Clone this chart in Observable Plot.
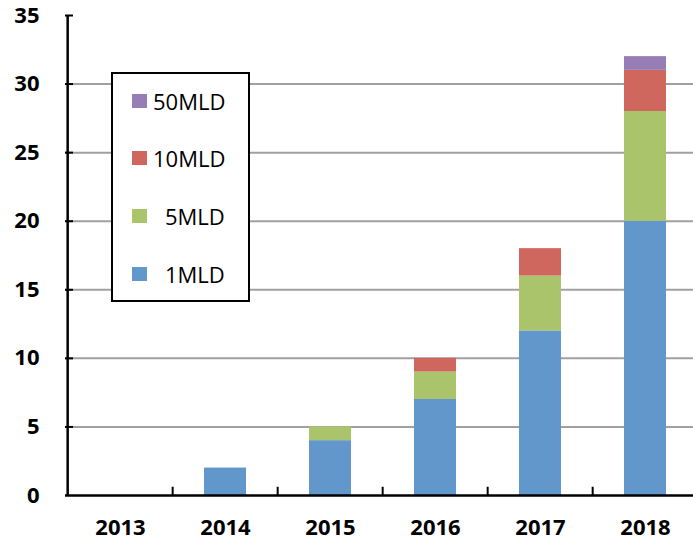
<!DOCTYPE html>
<html>
<head>
<meta charset="utf-8">
<script src="https://cdn.jsdelivr.net/npm/d3@7"></script>
<script src="https://cdn.jsdelivr.net/npm/@observablehq/plot@0.6"></script>
<style>
  body { margin: 0; background: #fff; }
  #wrap { position: relative; width: 693px; height: 542px; font-family: "Open Sans", sans-serif; }
  #legend { position: absolute; left: 111px; top: 72px; width: 135px; height: 226px; border: 2px solid #000; background: #fff; }
  .item { position: absolute; left: 19px; display: flex; align-items: center; font-size: 22px; color: #000; }
  .sw { width: 15px; height: 14px; margin-right: 6px; }
</style>
</head>
<body>
<div id="wrap"></div>
<script>
const years = ["2013", "2014", "2015", "2016", "2017", "2018"];
const seriesNames = ["1MLD", "5MLD", "10MLD", "50MLD"];
const mld1  = [0, 2, 4, 7, 12, 20];
const mld5  = [0, 0, 1, 2, 4, 8];
const mld10 = [0, 0, 0, 1, 2, 3];
const mld50 = [0, 0, 0, 0, 0, 1];
const colors = ["#6197CB", "#AAC46C", "#D0675E", "#977DB6"];
const yTicks = [0, 5, 10, 15, 20, 25, 30, 35];

const seriesValues = [mld1, mld5, mld10, mld50];
const data = [];
seriesNames.forEach((s, i) => years.forEach((y, j) => data.push({year: y, series: s, value: seriesValues[i][j]})));

const W = 693, H = 542, ML = 65, MT = 15, MB = 47;
const xRange = [ML, 699];
const padIn = 0.6, padOut = 0.3;
const step = (xRange[1] - xRange[0]) / (years.length - padIn + 2 * padOut);

const chart = Plot.plot({
  width: W, height: H,
  marginLeft: ML, marginRight: 0, marginTop: MT, marginBottom: MB,
  style: {fontFamily: "Open Sans, sans-serif", fontSize: "22px", fontWeight: "bold", color: "#000", background: "#fff"},
  x: {domain: years, range: xRange, paddingInner: padIn, paddingOuter: padOut, label: null},
  y: {domain: [0, 35], label: null},
  color: {domain: seriesNames, range: colors},
  marks: [
    Plot.ruleY(yTicks.filter(d => d > 0 && d < 35), {y: d => d, stroke: "#a0a0a0", strokeWidth: 2}),
    Plot.barY(data, {x: "year", y: "value", fill: "series", order: seriesNames}),
    Plot.tickY(yTicks.filter(d => d > 0), {y: d => d, stroke: "#000", strokeWidth: 2, insetRight: W - ML - 8}),
    Plot.ruleX(years.slice(1), {x: d => d, dx: -step / 2, y1: 0, y2: 0.6, stroke: "#000", strokeWidth: 2}),
    Plot.ruleX([years[0]], {x: d => d, dx: -step / 2, y1: 0, y2: 35, stroke: "#000", strokeWidth: 2.5}),
    Plot.ruleY([0], {stroke: "#000", strokeWidth: 2.5}),
    Plot.axisY({ticks: yTicks, tickSize: 0, tickPadding: 26, tickFormat: d => String(d), label: null}),
    Plot.axisX({tickSize: 0, tickPadding: 24, label: null})
  ]
});

const wrap = document.getElementById("wrap");
wrap.appendChild(chart);

const legend = document.createElement("div");
legend.id = "legend";
const order = [3, 2, 1, 0];
const tops = [21, 78, 136, 194];
order.forEach((si, k) => {
  const it = document.createElement("div");
  it.className = "item";
  it.style.top = (tops[k] - 9) + "px";
  const sw = document.createElement("div");
  sw.className = "sw";
  sw.style.background = colors[si];
  const tx = document.createElement("span");
  tx.textContent = seriesNames[si];
  if (seriesNames[si].length < 5) tx.style.paddingLeft = "12px";
  it.appendChild(sw);
  it.appendChild(tx);
  legend.appendChild(it);
});
wrap.appendChild(legend);
</script>
</body>
</html>
